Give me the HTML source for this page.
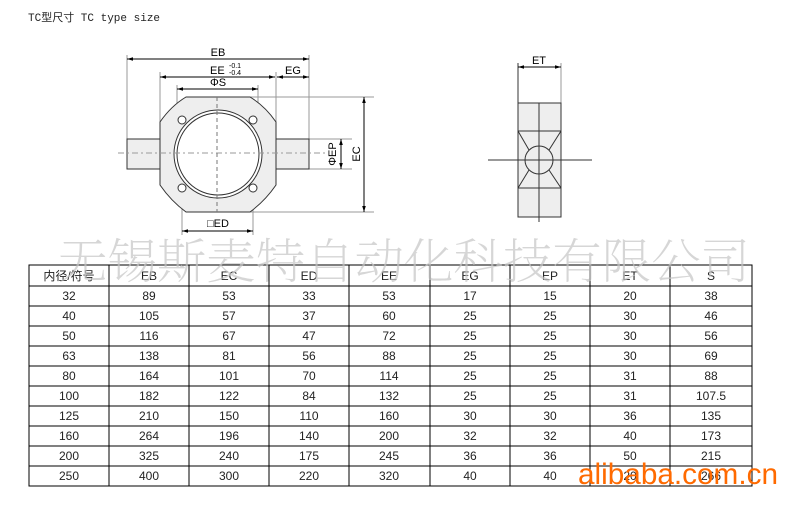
<!DOCTYPE html>
<html><head><meta charset="utf-8"><style>
html,body{margin:0;padding:0;background:#fff;}
svg{display:block;}
text{font-family:"Liberation Sans","Noto Sans CJK SC",sans-serif;}
</style></head><body>
<svg width="808" height="514" viewBox="0 0 808 514" xmlns="http://www.w3.org/2000/svg">
<defs>
<marker id="a" viewBox="0 0 10 10" refX="10" refY="5" markerWidth="6" markerHeight="6" orient="auto-start-reverse"><path d="M0,2 L10,5 L0,8 z" fill="#000"/></marker>
</defs>
<text x="28" y="21" font-size="11" style="font-family:'Liberation Mono','Noto Sans CJK SC',monospace" fill="#222">TC型尺寸 TC type size</text>

<g stroke="#999" stroke-width="1" fill="none">
<line x1="127" y1="55" x2="127" y2="139"/>
<line x1="309" y1="55" x2="309" y2="139"/>
<line x1="160" y1="72" x2="160" y2="122"/>
<line x1="276" y1="72" x2="276" y2="139"/>
<line x1="177" y1="85" x2="177" y2="140"/>
<line x1="258" y1="85" x2="258" y2="140"/>
<line x1="248" y1="97" x2="374" y2="97"/>
<line x1="248" y1="212" x2="374" y2="212"/>
<line x1="309" y1="139" x2="352" y2="139"/>
<line x1="309" y1="169" x2="352" y2="169"/>
<line x1="182" y1="190" x2="182" y2="235"/>
<line x1="253" y1="190" x2="253" y2="235"/>
</g>
<rect x="127" y="139" width="33" height="30" fill="#eee" stroke="#333"/>
<rect x="276" y="139" width="33" height="30" fill="#eee" stroke="#333"/>
<path d="M186,97 L250,97 Q265,106 276,122 L276,185 Q265,201 250,212 L186,212 Q171,201 160,185 L160,122 Q171,106 186,97 Z" fill="#eee" stroke="#333"/>
<circle cx="218" cy="154" r="44" fill="#fff" stroke="#333"/>
<circle cx="218" cy="154" r="41" fill="none" stroke="#333"/>
<g fill="#fff" stroke="#333"><circle cx="182" cy="120" r="4"/><circle cx="253" cy="120" r="4"/><circle cx="182" cy="188" r="4"/><circle cx="253" cy="188" r="4"/></g>
<line x1="118" y1="153" x2="326" y2="153" stroke="#999" stroke-dasharray="6,3,2,3"/>
<line x1="217" y1="97" x2="217" y2="212" stroke="#777" stroke-dasharray="4,3"/>
<g stroke="#000" stroke-width="1" marker-start="url(#a)" marker-end="url(#a)">
<line x1="127" y1="59" x2="309" y2="59"/>
<line x1="160" y1="77" x2="275" y2="77"/>
<line x1="277" y1="77" x2="309" y2="77"/>
<line x1="177" y1="89" x2="258" y2="89"/>
<line x1="364" y1="97" x2="364" y2="212"/>
<line x1="341" y1="139" x2="341" y2="169"/>
<line x1="182" y1="231" x2="253" y2="231"/>
</g>
<g font-size="11" fill="#000">
<text x="218" y="56" text-anchor="middle">EB</text>
<text x="210" y="74">EE</text>
<text x="229" y="68" font-size="7">-0.1</text>
<text x="229" y="75" font-size="7">-0.4</text>
<text x="293" y="74" text-anchor="middle">EG</text>
<text x="218" y="86" text-anchor="middle">ΦS</text>
<text x="218" y="227" text-anchor="middle">□ED</text>
<text transform="translate(336,154) rotate(-90)" text-anchor="middle">ΦEP</text>
<text transform="translate(360,154) rotate(-90)" text-anchor="middle">EC</text>
<text x="539" y="64" text-anchor="middle">ET</text>
</g>

<line x1="518" y1="63" x2="518" y2="103" stroke="#333"/>
<line x1="561" y1="63" x2="561" y2="103" stroke="#999"/>
<line x1="518" y1="67" x2="561" y2="67" stroke="#000" marker-start="url(#a)" marker-end="url(#a)"/>
<rect x="518" y="103" width="43" height="114" fill="#eee" stroke="#333"/>
<g stroke="#333" fill="none">
<line x1="518" y1="131" x2="561" y2="131"/>
<line x1="518" y1="188" x2="561" y2="188"/>
<line x1="518" y1="131" x2="529" y2="150"/>
<line x1="561" y1="131" x2="549" y2="150"/>
<line x1="518" y1="188" x2="529" y2="170"/>
<line x1="561" y1="188" x2="549" y2="170"/>
<circle cx="539" cy="160" r="14" fill="#eee"/>
<line x1="488" y1="160" x2="592" y2="160"/>
<line x1="539" y1="103" x2="539" y2="222"/>
</g>

<g stroke="#000" stroke-width="1" fill="none" shape-rendering="crispEdges">
<rect x="29" y="265" width="723" height="221"/>
<line x1="109" y1="265" x2="109" y2="486"/><line x1="189" y1="265" x2="189" y2="486"/>
<line x1="269" y1="265" x2="269" y2="486"/><line x1="349" y1="265" x2="349" y2="486"/>
<line x1="430" y1="265" x2="430" y2="486"/><line x1="510" y1="265" x2="510" y2="486"/>
<line x1="590" y1="265" x2="590" y2="486"/><line x1="670" y1="265" x2="670" y2="486"/>
<line x1="29" y1="286" x2="752" y2="286"/><line x1="29" y1="306" x2="752" y2="306"/>
<line x1="29" y1="326" x2="752" y2="326"/><line x1="29" y1="346" x2="752" y2="346"/>
<line x1="29" y1="366" x2="752" y2="366"/><line x1="29" y1="386" x2="752" y2="386"/>
<line x1="29" y1="406" x2="752" y2="406"/><line x1="29" y1="426" x2="752" y2="426"/>
<line x1="29" y1="446" x2="752" y2="446"/><line x1="29" y1="466" x2="752" y2="466"/>
</g>
<g font-size="12" fill="#222" text-anchor="middle">
<text y="280"><tspan x="69">内径/符号</tspan><tspan x="149">EB</tspan><tspan x="229">EC</tspan><tspan x="309">ED</tspan><tspan x="389">EE</tspan><tspan x="470">EG</tspan><tspan x="550">EP</tspan><tspan x="630">ET</tspan><tspan x="711">S</tspan></text>
<text y="300"><tspan x="69">32</tspan><tspan x="149">89</tspan><tspan x="229">53</tspan><tspan x="309">33</tspan><tspan x="389">53</tspan><tspan x="470">17</tspan><tspan x="550">15</tspan><tspan x="630">20</tspan><tspan x="711">38</tspan></text>
<text y="320"><tspan x="69">40</tspan><tspan x="149">105</tspan><tspan x="229">57</tspan><tspan x="309">37</tspan><tspan x="389">60</tspan><tspan x="470">25</tspan><tspan x="550">25</tspan><tspan x="630">30</tspan><tspan x="711">46</tspan></text>
<text y="340"><tspan x="69">50</tspan><tspan x="149">116</tspan><tspan x="229">67</tspan><tspan x="309">47</tspan><tspan x="389">72</tspan><tspan x="470">25</tspan><tspan x="550">25</tspan><tspan x="630">30</tspan><tspan x="711">56</tspan></text>
<text y="360"><tspan x="69">63</tspan><tspan x="149">138</tspan><tspan x="229">81</tspan><tspan x="309">56</tspan><tspan x="389">88</tspan><tspan x="470">25</tspan><tspan x="550">25</tspan><tspan x="630">30</tspan><tspan x="711">69</tspan></text>
<text y="380"><tspan x="69">80</tspan><tspan x="149">164</tspan><tspan x="229">101</tspan><tspan x="309">70</tspan><tspan x="389">114</tspan><tspan x="470">25</tspan><tspan x="550">25</tspan><tspan x="630">31</tspan><tspan x="711">88</tspan></text>
<text y="400"><tspan x="69">100</tspan><tspan x="149">182</tspan><tspan x="229">122</tspan><tspan x="309">84</tspan><tspan x="389">132</tspan><tspan x="470">25</tspan><tspan x="550">25</tspan><tspan x="630">31</tspan><tspan x="711">107.5</tspan></text>
<text y="420"><tspan x="69">125</tspan><tspan x="149">210</tspan><tspan x="229">150</tspan><tspan x="309">110</tspan><tspan x="389">160</tspan><tspan x="470">30</tspan><tspan x="550">30</tspan><tspan x="630">36</tspan><tspan x="711">135</tspan></text>
<text y="440"><tspan x="69">160</tspan><tspan x="149">264</tspan><tspan x="229">196</tspan><tspan x="309">140</tspan><tspan x="389">200</tspan><tspan x="470">32</tspan><tspan x="550">32</tspan><tspan x="630">40</tspan><tspan x="711">173</tspan></text>
<text y="460"><tspan x="69">200</tspan><tspan x="149">325</tspan><tspan x="229">240</tspan><tspan x="309">175</tspan><tspan x="389">245</tspan><tspan x="470">36</tspan><tspan x="550">36</tspan><tspan x="630">50</tspan><tspan x="711">215</tspan></text>
<text y="480"><tspan x="69">250</tspan><tspan x="149">400</tspan><tspan x="229">300</tspan><tspan x="309">220</tspan><tspan x="389">320</tspan><tspan x="470">40</tspan><tspan x="550">40</tspan><tspan x="630">20</tspan><tspan x="711">266</tspan></text>
</g>

<text x="58" y="278" font-size="48" fill="#c4c4c4" fill-opacity="0.7" textLength="692" lengthAdjust="spacingAndGlyphs" style="font-family:'Noto Serif CJK SC','Noto Sans CJK SC',serif;font-weight:200">无锡斯麦特自动化科技有限公司</text>
<text x="578" y="484" font-size="30" fill="#ff6a00" textLength="200" lengthAdjust="spacingAndGlyphs">alibaba.com.cn</text>
</svg>
</body></html>
